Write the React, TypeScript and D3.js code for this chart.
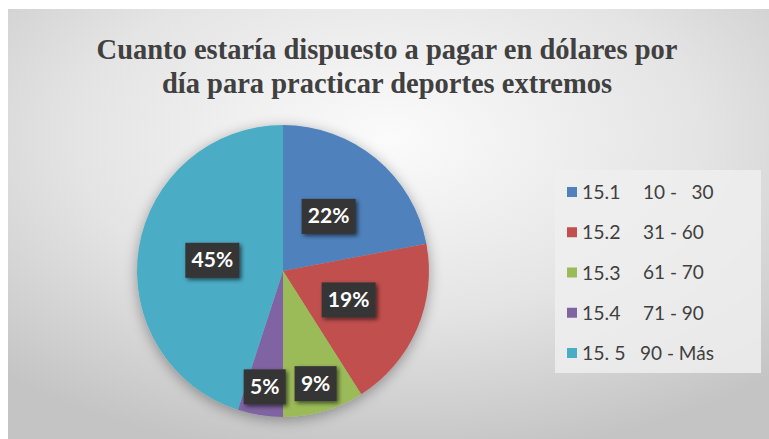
import React, { useEffect, useRef } from 'react';
import * as d3 from 'd3';

// datos del gráfico
const codes = ['15.1', '15.2', '15.3', '15.4', '15. 5'];
const ranges = ['10 -   30', '31 - 60', '61 - 70', '71 - 90', '90 - Más'];
const values = [22, 19, 9, 5, 45];
const colors = ['#4F81BD', '#C0504D', '#9BBB59', '#8064A2', '#4BACC6'];
const titleLines = [
  'Cuanto estaría dispuesto a pagar en dólares por',
  'día para practicar deportes extremos',
];

const W = 769;
const H = 439;

const App: React.FC = () => {
  const svgRef = useRef<SVGSVGElement | null>(null);

  useEffect(() => {
    if (!svgRef.current) return;
    const svg = d3.select(svgRef.current);
    svg.selectAll('*').remove();

    const defs = svg.append('defs');

    // fondo degradado gris
    const bg = defs
      .append('radialGradient')
      .attr('id', 'bg')
      .attr('cx', '50%')
      .attr('cy', '30%')
      .attr('r', '75%');
    bg.append('stop').attr('offset', '0%').attr('stop-color', '#fbfbfb');
    bg.append('stop').attr('offset', '55%').attr('stop-color', '#e4e4e4');
    bg.append('stop').attr('offset', '100%').attr('stop-color', '#c4c4c4');

    const pieShadow = defs.append('filter').attr('id', 'pieShadow')
      .attr('x', '-20%').attr('y', '-20%').attr('width', '140%').attr('height', '140%');
    pieShadow.append('feGaussianBlur').attr('in', 'SourceAlpha').attr('stdDeviation', 7);
    pieShadow.append('feOffset').attr('dx', 0).attr('dy', 3).attr('result', 'b');
    pieShadow.append('feComponentTransfer').append('feFuncA').attr('type', 'linear').attr('slope', 0.35);
    const pm = pieShadow.append('feMerge');
    pm.append('feMergeNode');
    pm.append('feMergeNode').attr('in', 'SourceGraphic');

    const boxShadow = defs.append('filter').attr('id', 'boxShadow')
      .attr('x', '-30%').attr('y', '-30%').attr('width', '160%').attr('height', '160%');
    boxShadow.append('feGaussianBlur').attr('in', 'SourceAlpha').attr('stdDeviation', 2);
    boxShadow.append('feOffset').attr('dx', 2).attr('dy', 2).attr('result', 'b');
    boxShadow.append('feComponentTransfer').append('feFuncA').attr('type', 'linear').attr('slope', 0.6);
    const bm = boxShadow.append('feMerge');
    bm.append('feMergeNode');
    bm.append('feMergeNode').attr('in', 'SourceGraphic');

    svg.append('rect').attr('width', W).attr('height', H).attr('fill', '#ffffff');
    svg
      .append('rect')
      .attr('x', 8)
      .attr('y', 9)
      .attr('width', W - 8)
      .attr('height', H - 9)
      .attr('fill', 'url(#bg)');

    // título
    svg
      .append('g')
      .selectAll('text')
      .data(titleLines)
      .enter()
      .append('text')
      .attr('x', 387)
      .attr('y', (d, i) => 59 + i * 34)
      .attr('text-anchor', 'middle')
      .attr('font-family', '"Liberation Serif", "Times New Roman", serif')
      .attr('font-weight', 'bold')
      .attr('font-size', 28.5)
      .attr('fill', '#404040')
      .text((d) => d);

    // pastel
    const cx = 283;
    const cy = 271;
    const r = 146;
    const pie = d3.pie<number>().sort(null).value((d) => d);
    const arcs = pie(values);
    const arc = d3.arc<d3.PieArcDatum<number>>().innerRadius(0).outerRadius(r);

    const g = svg.append('g').attr('transform', `translate(${cx},${cy})`);
    const slices = g.append('g').attr('filter', 'url(#pieShadow)');
    slices
      .selectAll('path')
      .data(arcs)
      .enter()
      .append('path')
      .attr('d', arc)
      .attr('fill', (d, i) => colors[i]);

    // etiquetas de porcentaje
    const labelPos = (d: d3.PieArcDatum<number>) => {
      const k = d.data < 10 ? 0.8 : 0.49;
      const a = (d.startAngle + d.endAngle) / 2;
      return [Math.sin(a) * r * k, -Math.cos(a) * r * k];
    };
    const labels = g
      .selectAll('g.lbl')
      .data(arcs)
      .enter()
      .append('g')
      .attr('class', 'lbl')
      .attr('transform', (d) => {
        const [x, y] = labelPos(d);
        return `translate(${x},${y})`;
      });
    labels
      .append('rect')
      .attr('x', (d) => (d.data < 10 ? -21 : -27))
      .attr('y', -17)
      .attr('width', (d) => (d.data < 10 ? 42 : 54))
      .attr('height', 35)
      .attr('fill', '#363636')
      .attr('filter', 'url(#boxShadow)');
    labels
      .append('text')
      .attr('text-anchor', 'middle')
      .attr('dy', '0.36em')
      .attr('font-family', 'Lato, "Open Sans", sans-serif')
      .attr('font-weight', 'bold')
      .attr('font-size', 21)
      .attr('fill', '#ffffff')
      .text((d) => `${d.data}%`);

    // leyenda
    const legend = svg.append('g');
    legend
      .append('rect')
      .attr('x', 555)
      .attr('y', 170)
      .attr('width', 206)
      .attr('height', 203)
      .attr('fill', '#efefef')
      .attr('fill-opacity', 0.85);
    const rowY = d3.scalePoint<number>().domain(d3.range(codes.length)).range([192, 353]);
    const rows = legend
      .selectAll('g.row')
      .data(codes)
      .enter()
      .append('g')
      .attr('class', 'row')
      .attr('transform', (d, i) => `translate(0,${rowY(i)})`);
    rows
      .append('rect')
      .attr('x', 567)
      .attr('y', -5)
      .attr('width', 10)
      .attr('height', 10)
      .attr('fill', (d, i) => colors[i]);
    rows
      .append('text')
      .attr('x', 582)
      .attr('dy', '0.36em')
      .attr('font-family', 'Lato, "Open Sans", sans-serif')
      .attr('font-size', 19.5)
      .attr('fill', '#404040')
      .text((d) => d);
    rows
      .append('text')
      .attr('x', (d, i) => (i === codes.length - 1 ? 640 : 643))
      .attr('dy', '0.36em')
      .attr('font-family', 'Lato, "Open Sans", sans-serif')
      .attr('font-size', 19)
      .attr('fill', '#404040')
      .style('white-space', 'pre')
      .text((d, i) => ranges[i]);
  }, []);

  return (
    <div style={{ position: 'absolute', left: 0, top: 0 }}>
      <svg ref={svgRef} width={W} height={H} style={{ display: 'block' }}></svg>
    </div>
  );
};

export default App;
